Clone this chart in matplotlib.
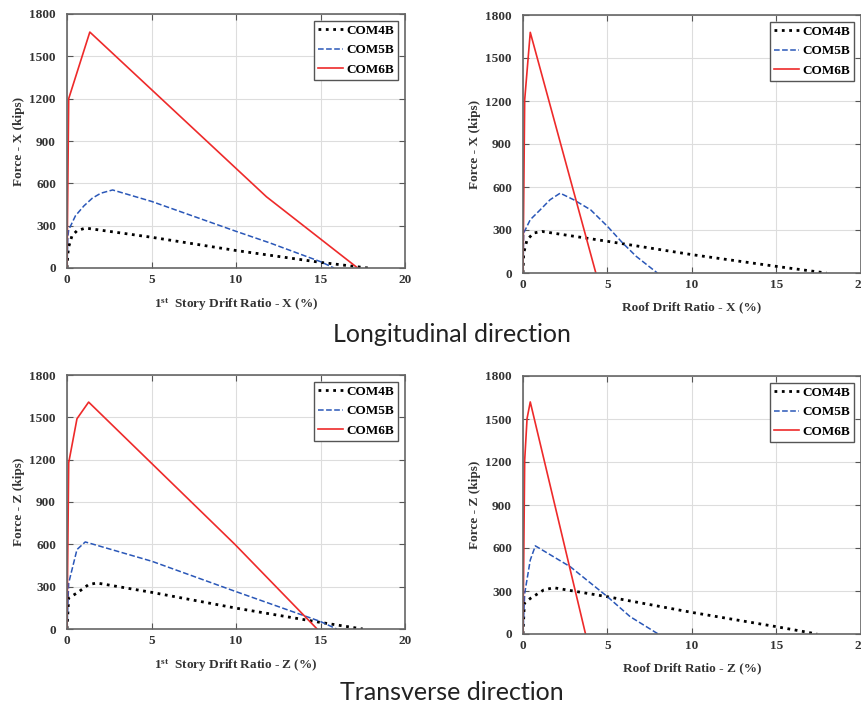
import matplotlib
matplotlib.use("Agg")
import matplotlib.pyplot as plt

plt.rcParams['font.family'] = ['Liberation Serif']
plt.rcParams['font.weight'] = 'bold'
plt.rcParams['mathtext.fontset'] = 'custom'
plt.rcParams['mathtext.rm'] = 'Liberation Serif:bold'
plt.rcParams['mathtext.bf'] = 'Liberation Serif:bold'

series_names = ["COM4B", "COM5B", "COM6B"]

# 1st story drift ratio - X
story_x_4b_x = [0, 0.05, 0.1, 0.3, 0.6, 1.1, 5, 10, 15, 17.8]
story_x_4b_y = [0, 100, 150, 230, 265, 283, 218, 124, 40, 0]
story_x_5b_x = [0, 0.05, 0.1, 0.5, 1.0, 1.5, 2.0, 2.7, 5, 10, 12, 15, 15.8]
story_x_5b_y = [0, 220, 270, 370, 440, 495, 530, 553, 472, 260, 178, 45, 0]
story_x_6b_x = [0, 0.1, 1.35, 11.8, 17.2]
story_x_6b_y = [0, 1200, 1672, 505, 0]

# Roof drift ratio - X
roof_x_4b_x = [0, 0.04, 0.24, 0.63, 1.12, 5, 10, 15, 17.95]
roof_x_4b_y = [0, 139, 232, 279, 290, 221, 128, 46, 0]
roof_x_5b_x = [0, 0.04, 0.43, 1.02, 1.6, 2.2, 3.0, 4.0, 5.0, 5.9, 6.7, 7.95]
roof_x_5b_y = [0, 279, 372, 441, 511, 557, 511, 441, 325, 209, 116, 0]
roof_x_6b_x = [0, 0.1, 0.43, 4.31]
roof_x_6b_y = [0, 1208, 1679, 0]

# 1st story drift ratio - Z
story_z_4b_x = [0, 0.1, 0.59, 1.28, 1.77, 5, 9.95, 14.98, 17.5]
story_z_4b_y = [0, 220, 255, 315, 326, 260, 149, 47, 0]
story_z_5b_x = [0, 0.1, 0.59, 1.08, 5.02, 9.95, 14.98, 15.96]
story_z_5b_y = [0, 326, 563, 617, 480, 267, 54, 0]
story_z_6b_x = [0, 0.1, 0.59, 1.28, 9.95, 14.8]
story_z_6b_y = [0, 1178, 1490, 1608, 598, 0]

# Roof drift ratio - Z
roof_z_4b_x = [0, 0.08, 0.43, 1.22, 1.81, 5, 9.98, 15, 17.4]
roof_z_4b_y = [0, 214, 248, 307, 323, 260, 151, 51, 0]
roof_z_5b_x = [0, 0.1, 0.43, 0.73, 2.8, 5, 6.34, 8.0]
roof_z_5b_y = [0, 283, 516, 615, 469, 260, 121, 0]
roof_z_6b_x = [0, 0.1, 0.24, 0.43, 3.7]
roof_z_6b_y = [0, 1212, 1503, 1619, 0]

x_ticks = [0, 5, 10, 15, 20]
y_ticks = [0, 300, 600, 900, 1200, 1500, 1800]

styles = [dict(color='black', linestyle=':', linewidth=2.0),
          dict(color='#2a57b8', linestyle='--', linewidth=1.1),
          dict(color='#ee2a2a', linestyle='-', linewidth=1.2)]

W, H = 862, 713
fig = plt.figure(figsize=(W / 100, H / 100), dpi=100)


def make_axes(left, top, width, height):
    return fig.add_axes([left / W, 1 - (top + height) / H, width / W, height / H])


panels = [
    (make_axes(67, 14, 338, 254),
     [(story_x_4b_x, story_x_4b_y), (story_x_5b_x, story_x_5b_y), (story_x_6b_x, story_x_6b_y)],
     r'$\mathbf{1^{st}}$  Story Drift Ratio - X (%)', 'Force - X (kips)'),
    (make_axes(523, 15, 338, 258),
     [(roof_x_4b_x, roof_x_4b_y), (roof_x_5b_x, roof_x_5b_y), (roof_x_6b_x, roof_x_6b_y)],
     'Roof Drift Ratio - X (%)', 'Force - X (kips)'),
    (make_axes(67, 375, 338, 254),
     [(story_z_4b_x, story_z_4b_y), (story_z_5b_x, story_z_5b_y), (story_z_6b_x, story_z_6b_y)],
     r'$\mathbf{1^{st}}$  Story Drift Ratio - Z (%)', 'Force - Z (kips)'),
    (make_axes(523, 376, 338, 258),
     [(roof_z_4b_x, roof_z_4b_y), (roof_z_5b_x, roof_z_5b_y), (roof_z_6b_x, roof_z_6b_y)],
     'Roof Drift Ratio - Z (%)', 'Force - Z (kips)'),
]

for ax, data, xlabel, ylabel in panels:
    for (xs, ys), name, st in zip(data, series_names, styles):
        ax.plot(xs, ys, label=name, **st)
    ax.set_xlim(0, 20)
    ax.set_ylim(0, 1800)
    ax.set_xticks(x_ticks)
    ax.set_yticks(y_ticks)
    ax.grid(True, color='#dddddd', linewidth=0.8)
    ax.set_axisbelow(True)
    ax.tick_params(direction='in', top=True, right=True, length=4, width=0.8,
                   colors='#555555', labelcolor='#333333', labelsize=9.5)
    ax.tick_params(axis='y', pad=8)
    ax.tick_params(axis='x', pad=4)
    for s in ax.spines.values():
        s.set_color('#666666')
        s.set_linewidth(1.2)
    ax.set_xlabel(xlabel, fontsize=9.5, color='#333333', fontweight='bold', labelpad=8)
    ax.set_ylabel(ylabel, fontsize=9.5, color='#333333', fontweight='bold', labelpad=3)
    leg = ax.legend(loc='upper right', fontsize=9.5, handlelength=1.9, handletextpad=0.25,
                    borderpad=0.3, labelspacing=0.55, fancybox=False, framealpha=1,
                    borderaxespad=0.5)
    leg.get_frame().set_edgecolor('#555555')
    leg.get_frame().set_linewidth(1.0)

fig.text(452 / W, 1 - 335 / H, 'Longitudinal direction', ha='center', va='center',
         fontsize=18, family='Lato', fontweight='normal', color='#222222')
fig.text(452 / W, 1 - 693 / H, 'Transverse direction', ha='center', va='center',
         fontsize=18, family='Lato', fontweight='normal', color='#222222')

fig.savefig('out.png', dpi=100)
